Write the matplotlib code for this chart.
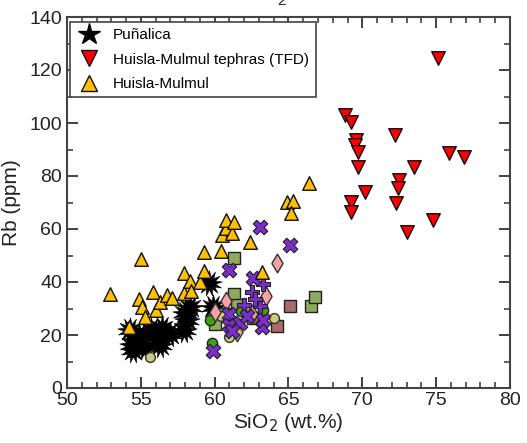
import matplotlib
matplotlib.use("Agg")
import matplotlib.pyplot as plt
from matplotlib.path import Path
from matplotlib.lines import Line2D
from matplotlib.ticker import MultipleLocator

plt.rcParams['font.family'] = ['Liberation Sans', 'DejaVu Sans']

# ---- data ----
punalica_sio2 = [54.5, 54.7, 54.4, 54.9, 56.1, 56.3, 55.7, 56.4, 57.9, 58.1, 58.3, 58.0, 59.6, 59.9, 54.3, 55.2, 57.0]
punalica_rb   = [14.3, 18.1, 16.2, 20.0, 19.4, 16.2, 21.9, 22.5, 21.9, 25.7, 30.7, 28.2, 39.5, 30.7, 21.9, 15.5, 20.5]

tfd_sio2 = [75.1, 68.8, 69.2, 72.2, 69.6, 69.5, 69.7, 75.9, 76.9, 69.7, 73.5, 72.5, 72.4, 70.2, 72.3, 69.2, 69.2, 74.8, 73.0]
tfd_rb   = [124.4, 103.0, 100.5, 95.5, 93.6, 91.7, 89.2, 88.5, 87.3, 83.5, 83.5, 78.5, 75.4, 74.1, 69.7, 70.3, 66.5, 63.4, 59.0]

hm_sio2 = [52.9, 54.2, 54.9, 55.0, 55.1, 55.3, 55.8, 56.0, 56.3, 56.8, 57.1, 57.9, 57.9, 58.3, 58.4,
           59.0, 59.3, 59.3, 60.4, 60.5, 60.8, 60.8, 61.2, 61.3, 62.4, 63.2, 64.9, 65.3, 65.2, 66.4]
hm_rb   = [35.6, 23.0, 33.5, 48.6, 30.7, 26.9, 36.1, 29.4, 32.6, 35.1, 33.8, 43.5, 36.0, 40.3, 36.6,
           40.0, 44.2, 51.2, 51.8, 57.7, 60.5, 63.4, 58.4, 62.8, 55.2, 43.9, 70.3, 70.6, 65.9, 77.5]

gsq_sio2 = [60.0, 61.3, 61.5, 61.3, 66.5, 66.8, 60.6, 62.0]
gsq_rb   = [24.2, 35.5, 31.5, 49.0, 31.0, 34.2, 28.0, 30.0]

bsq_sio2 = [65.1, 64.2, 62.6]
bsq_rb   = [31.0, 23.5, 26.5]

px_sio2 = [63.1, 65.1, 61.0, 62.6, 61.0, 61.0, 61.7, 61.2, 63.2, 63.3, 59.9, 62.2]
px_rb   = [60.9, 53.8, 44.5, 41.6, 27.8, 23.8, 24.4, 21.5, 23.1, 25.5, 13.8, 27.0]

pp_sio2 = [62.5, 63.3, 62.0, 63.1, 62.7]
pp_rb   = [36.3, 39.3, 31.5, 30.8, 33.5]

dia_sio2 = [64.2, 63.5, 60.8, 60.0, 61.5, 62.5]
dia_rb   = [47.1, 34.7, 32.8, 28.5, 21.0, 28.0]

circ_sio2 = [55.6, 61.0, 64.0, 60.4]
circ_rb   = [11.6, 19.4, 26.6, 27.0]

bg_sio2 = [59.8, 59.7, 63.3, 61.8]
bg_rb   = [16.9, 25.7, 29.4, 29.0]

legend_labels = ['Puñalica', 'Huisla-Mulmul tephras (TFD)', 'Huisla-Mulmul']

# ---- figure ----
fig = plt.figure(figsize=(5.27, 4.43), dpi=100)
ax = fig.add_axes([67/527, 1-388/443, (510-67)/527, (388-17)/443])

burst = Path.unit_regular_star(13, 0.5)

ax.scatter(punalica_sio2, punalica_rb, marker=burst, s=340, c='black', edgecolors='black', linewidths=0.4, zorder=2)
ax.scatter(gsq_sio2, gsq_rb, marker='s', s=80, c='#8FAA5E', edgecolors='#222222', linewidths=1.0, zorder=3)
ax.scatter(bsq_sio2, bsq_rb, marker='s', s=80, c='#A86A6A', edgecolors='#222222', linewidths=1.0, zorder=3)
ax.scatter(bg_sio2, bg_rb, marker='o', s=55, c='#3FA010', edgecolors='#222222', linewidths=1.0, zorder=3)
ax.scatter(circ_sio2, circ_rb, marker='o', s=50, c='#CDCB7C', edgecolors='#333333', linewidths=1.0, zorder=4)
ax.scatter(dia_sio2, dia_rb, marker='d', s=90, c='#F4A2A2', edgecolors='#333333', linewidths=1.0, zorder=4)
ax.scatter(pp_sio2, pp_rb, marker='P', s=110, c='#7B2FC8', edgecolors='#222222', linewidths=0.8, zorder=5)
ax.scatter(px_sio2, px_rb, marker='X', s=110, c='#7B2FC8', edgecolors='#222222', linewidths=0.8, zorder=5)
ax.scatter(hm_sio2, hm_rb, marker='^', s=95, c='#FFC000', edgecolors='#111111', linewidths=1.0, zorder=6)
ax.scatter(tfd_sio2, tfd_rb, marker='v', s=95, c='#FF0000', edgecolors='#111111', linewidths=1.0, zorder=6)

ax.set_xlim(50, 80)
ax.set_ylim(0, 140)
ax.xaxis.set_major_locator(MultipleLocator(5))
ax.xaxis.set_minor_locator(MultipleLocator(1))
ax.yaxis.set_major_locator(MultipleLocator(20))
ax.yaxis.set_minor_locator(MultipleLocator(10))
ax.tick_params(which='both', direction='in', top=True, right=True, colors='#333333', labelcolor='#222222')
ax.tick_params(which='major', length=8, width=1.3, labelsize=14)
ax.tick_params(which='minor', length=4.5, width=1.1)
ax.tick_params(axis='x', pad=3)
for sp in ax.spines.values():
    sp.set_color('#444444')
    sp.set_linewidth(1.5)

ax.set_xlabel('SiO$_2$ (wt.%)', fontsize=15, color='#222222', labelpad=1)
ax.set_ylabel('Rb (ppm)', fontsize=15, color='#222222', labelpad=6)

handles = [
    Line2D([], [], linestyle='none', marker='*', markersize=16, markerfacecolor='black', markeredgecolor='black'),
    Line2D([], [], linestyle='none', marker='v', markersize=11, markerfacecolor='#FF0000', markeredgecolor='#111111'),
    Line2D([], [], linestyle='none', marker='^', markersize=11, markerfacecolor='#FFC000', markeredgecolor='#111111'),
]
leg = ax.legend(handles, legend_labels, loc='upper left', bbox_to_anchor=(0.007, 0.987),
                borderaxespad=0, fontsize=11, frameon=True, fancybox=False,
                edgecolor='#444444', framealpha=1, handletextpad=0.8, labelspacing=0.68,
                borderpad=0.42, handlelength=1.6)
leg.get_frame().set_linewidth(1.2)
leg.set_zorder(10)

fig.text(282/527, 1-5/443, '2', fontsize=11, ha='center', va='baseline', color='#222222')

fig.savefig('out.png', dpi=100)
